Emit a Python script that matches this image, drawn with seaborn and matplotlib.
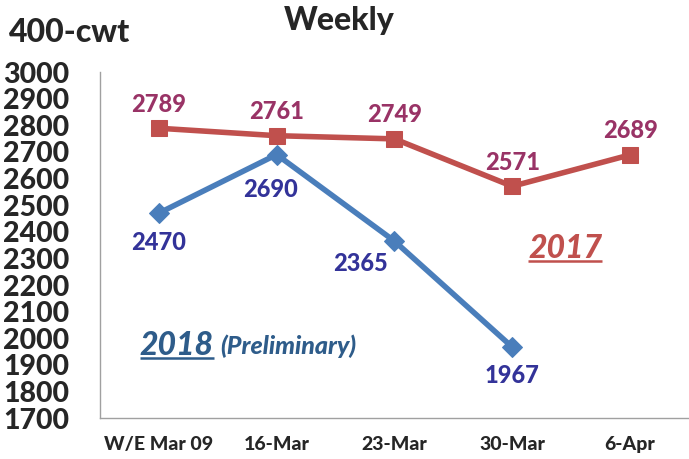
import pandas as pd
import matplotlib
matplotlib.use("Agg")
import matplotlib.pyplot as plt
import seaborn as sns

# Data
weeks = ["W/E Mar 09", "16-Mar", "23-Mar", "30-Mar", "6-Apr"]
values_2017 = [2789, 2761, 2749, 2571, 2689]
values_2018 = [2470, 2690, 2365, 1967]
y_ticks = list(range(1700, 3001, 100))

sns.set_theme(style="white")
plt.rcParams["font.family"] = ["Lato", "DejaVu Sans"]

df17 = pd.DataFrame({"pos": range(len(values_2017)), "value": values_2017})
df18 = pd.DataFrame({"pos": range(len(values_2018)), "value": values_2018})

fig = plt.figure(figsize=(6.89, 4.59), dpi=100)
ax = fig.add_axes([0.145, 0.089, 0.855, 0.754])

red = "#C0504D"
blue = "#4A7EBB"
W = "black"

sns.lineplot(data=df17, x="pos", y="value", ax=ax, color=red, linewidth=4,
             marker="s", markersize=11, markeredgecolor=red)
sns.lineplot(data=df18, x="pos", y="value", ax=ax, color=blue, linewidth=4,
             marker="D", markersize=10, markeredgecolor=blue)

# Value labels
for i, v in enumerate(values_2017):
    ax.annotate(str(v), (i, v), xytext=(0, 24), textcoords="offset pixels",
                ha="center", va="center", color="#993366", fontsize=17,
                fontweight=W)

offsets_2018 = [(0, -29), (-6, -35), (-34, -22), (0, -28)]
for i, v in enumerate(values_2018):
    ax.annotate(str(v), (i, v), xytext=offsets_2018[i], textcoords="offset pixels",
                ha="center", va="center", color="#333399", fontsize=17,
                fontweight=W)

# Series labels with underline
def underline(t, color):
    fig.canvas.draw()
    bb = t.get_window_extent().transformed(ax.transAxes.inverted())
    ax.plot([bb.x0, bb.x1], [bb.y0 + 0.005, bb.y0 + 0.005], transform=ax.transAxes,
            color=color, linewidth=1.8, solid_capstyle="butt")

t18 = ax.text(0.068, 0.211, "2018", transform=ax.transAxes, color="#2E5C8A",
              fontsize=23, fontweight=W, style="italic", va="center")
underline(t18, "#2E5C8A")
ax.text(0.204, 0.208, "(Preliminary)", transform=ax.transAxes, color="#2E5C8A",
        fontsize=18, fontweight=W, style="italic", va="center")
t17 = ax.text(0.727, 0.491, "2017", transform=ax.transAxes, color=red,
              fontsize=23, fontweight=W, style="italic", va="center")
underline(t17, red)

# Axes styling
ax.set_xlim(-0.5, 4.5)
ax.set_ylim(1700, 3000)
ax.set_yticks(y_ticks)
ax.set_yticklabels([str(t) for t in y_ticks], fontsize=20.5, fontweight=W)
ax.set_xticks(range(len(weeks)))
ax.set_xticklabels(weeks, fontsize=14, fontweight=W)
ax.set_xticks([i - 0.5 for i in range(len(weeks) + 1)], minor=True)
ax.tick_params(axis="x", which="major", length=0, pad=13)
ax.tick_params(axis="x", which="minor", length=7, color="#A0A0A0", width=1, direction="out")
ax.tick_params(axis="y", length=8, color="#A0A0A0", width=1, direction="out", pad=14)
ax.set_xlabel("")
ax.set_ylabel("")
for side in ["top", "right"]:
    ax.spines[side].set_visible(False)
for side in ["left", "bottom"]:
    ax.spines[side].set_color("#A0A0A0")
    ax.spines[side].set_linewidth(1)

fig.text(0.013, 0.93, "400-cwt", fontsize=23, fontweight=W, va="center")
fig.text(0.493, 0.955, "Weekly", fontsize=23, fontweight=W, ha="center", va="center")

fig.savefig("out.png", dpi=100)
